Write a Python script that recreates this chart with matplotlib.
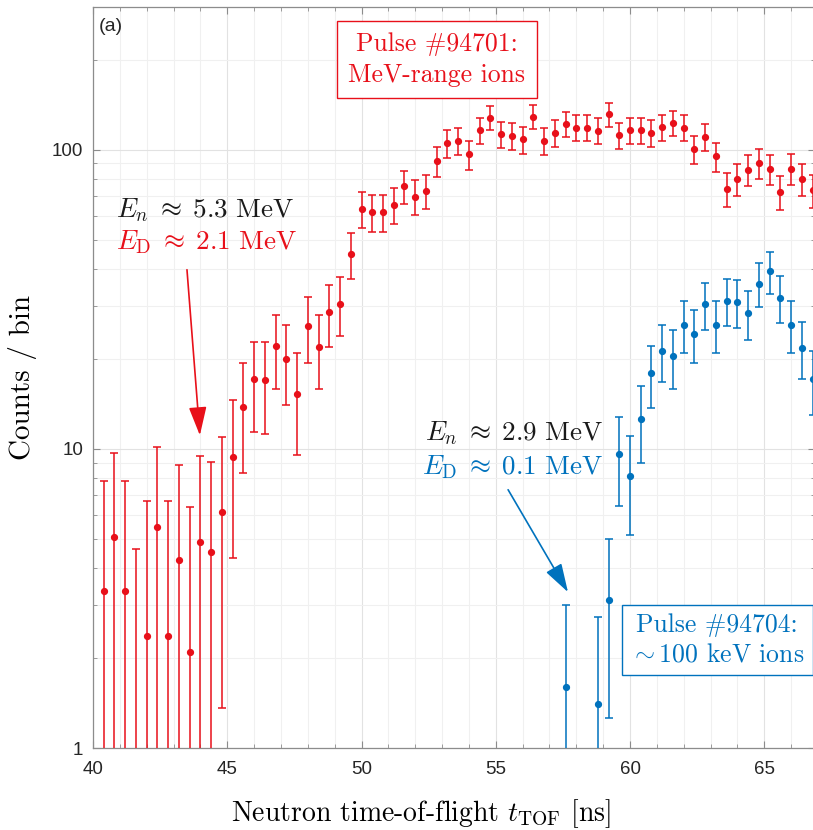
import matplotlib
matplotlib.use("Agg")
import matplotlib.pyplot as plt
from matplotlib.ticker import LogLocator, MultipleLocator, NullFormatter, FixedLocator

plt.rcParams["mathtext.fontset"] = "cm"

# Pulse #94701 (MeV-range ions)
tof_red = [40.4, 40.8, 41.2, 41.6, 42.0, 42.4, 42.8, 43.2, 43.6, 44.0,
           44.4, 44.8, 45.2, 45.6, 46.0, 46.4, 46.8, 47.2, 47.6, 48.0,
           48.4, 48.8, 49.2, 49.6, 50.0, 50.4, 50.8, 51.2, 51.6, 52.0,
           52.4, 52.8, 53.2, 53.6, 54.0, 54.4, 54.8, 55.2, 55.6, 56.0,
           56.4, 56.8, 57.2, 57.6, 58.0, 58.4, 58.8, 59.2, 59.6, 60.0,
           60.4, 60.8, 61.2, 61.6, 62.0, 62.4, 62.8, 63.2, 63.6, 64.0,
           64.4, 64.8, 65.2, 65.6, 66.0, 66.4, 66.8]
counts_red = [3.35, 5.07, 3.35, 0.55, 2.37, 5.50, 2.37, 4.25, 2.10, 4.88,
              4.51, 6.15, 9.42, 13.8, 17.1, 17.0, 22.0, 20.0, 15.2, 25.8,
              21.9, 28.6, 30.6, 44.9, 63.6, 61.9, 61.9, 65.5, 75.4, 69.7,
              72.9, 91.7, 105.0, 107.2, 96.4, 116.4, 128.0, 112.8, 111.1, 108.2,
              128.9, 106.9, 113.9, 122.2, 118.6, 118.6, 115.8, 131.2, 111.9, 116.4,
              116.4, 113.9, 118.9, 122.8, 118.6, 100.7, 110.5, 95.0, 73.8, 79.6,
              85.6, 90.3, 86.1, 72.2, 86.5, 80.0, 73.1]
err_red = [4.43, 4.63, 4.43, 4.07, 4.34, 4.68, 4.31, 4.55, 4.28, 4.62,
           4.54, 4.79, 5.10, 5.50, 5.75, 5.76, 6.10, 6.00, 5.65, 6.40,
           6.10, 6.70, 6.80, 7.80, 8.90, 8.80, 8.80, 9.00, 9.60, 9.30,
           9.40, 10.4, 11.0, 11.1, 10.6, 11.5, 12.0, 11.3, 11.3, 11.1,
           12.0, 11.1, 11.4, 11.8, 11.6, 11.6, 11.5, 12.1, 11.3, 11.5,
           11.5, 11.4, 11.6, 11.8, 11.6, 10.8, 11.2, 10.5, 9.50, 9.80,
           10.1, 10.3, 10.1, 9.40, 10.1, 9.80, 9.40]

# Pulse #94704 (~100 keV ions)
tof_blue = [57.6, 58.8, 59.2, 59.6, 60.0, 60.4, 60.8, 61.2, 61.6, 62.0,
            62.4, 62.8, 63.2, 63.6, 64.0, 64.4, 64.8, 65.2, 65.6, 66.0,
            66.4, 66.8]
counts_blue = [1.60, 1.40, 3.13, 9.60, 8.12, 12.6, 17.9, 21.3, 20.4, 26.0,
               24.3, 30.4, 26.0, 31.3, 31.0, 28.4, 35.7, 39.3, 32.0, 26.0,
               21.8, 17.1]
err_blue = [1.41, 1.34, 1.87, 3.15, 2.95, 3.60, 4.20, 4.60, 4.50, 5.10,
            4.90, 5.50, 5.10, 5.60, 5.60, 5.30, 6.00, 6.30, 5.70, 5.10,
            4.70, 4.10]

x_ticks = [40, 45, 50, 55, 60, 65]
y_ticks = [1, 10, 100]

RED = "#e8101a"
BLUE = "#0072bd"

fig = plt.figure(figsize=(8.13, 8.30), dpi=100)
ax = fig.add_axes([93 / 813, 82 / 830, 722 / 813, 741 / 830])

ax.set_yscale("log")
ax.errorbar(tof_red, counts_red, yerr=err_red, fmt="o", color=RED, ms=4.2,
            capsize=3, elinewidth=1.1, capthick=1.1, zorder=3)
ax.errorbar(tof_blue, counts_blue, yerr=err_blue, fmt="o", color=BLUE, ms=4.2,
            capsize=3, elinewidth=1.1, capthick=1.1, zorder=3)

ax.set_xlim(40, 66.89)
ax.set_ylim(1, 300)

ax.xaxis.set_major_locator(FixedLocator(x_ticks))
ax.xaxis.set_minor_locator(MultipleLocator(1))
ax.yaxis.set_major_locator(FixedLocator(y_ticks))
ax.yaxis.set_minor_locator(LogLocator(base=10, subs=range(2, 10)))
ax.yaxis.set_minor_formatter(NullFormatter())
ax.set_yticklabels(["1", "10", "100"])

ax.grid(True, which="major", color="#e2e2e2", lw=0.8, zorder=0)
ax.grid(True, which="minor", color="#f0f0f0", lw=0.8, zorder=0)
ax.set_axisbelow(True)

for s in ax.spines.values():
    s.set_color("#8c8c8c")
    s.set_linewidth(0.9)
ax.tick_params(which="both", direction="in", top=True, right=True,
               color="#8c8c8c", labelcolor="#262626", labelsize=13.5)
ax.tick_params(which="major", length=5)
ax.tick_params(which="minor", length=3)
ax.tick_params(axis="x", pad=9)
ax.tick_params(axis="y", pad=7)
for lab in ax.get_xticklabels() + ax.get_yticklabels():
    lab.set_family("Liberation Sans")

ax.set_ylabel("Counts / bin", fontsize=21, family="cmr10")
ax.yaxis.set_label_coords(-0.077, 0.5)
ax.set_xlabel(r"Neutron time-of-flight $t_{\mathrm{TOF}}$ [ns]", fontsize=20,
              family="cmr10")
ax.xaxis.set_label_coords((421 - 93) / 722, -0.066)

ax.text(0.008, 0.985, "(a)", transform=ax.transAxes, ha="left", va="top",
        fontsize=14, family="Liberation Sans", color="#262626")

ax.text(52.8, 200, "Pulse #94701:\nMeV-range ions", family="cmr10",
        ha="center", va="center", color=RED, fontsize=18.5, linespacing=1.35,
        bbox=dict(boxstyle="square,pad=0.45", fc="white", ec=RED, lw=1.0))
ax.text(63.25, 2.3, "Pulse #94704:\n" + r"$\sim$100 keV ions", family="cmr10",
        ha="center", va="center", color=BLUE, fontsize=18.5, linespacing=1.35,
        bbox=dict(boxstyle="square,pad=0.32", fc="white", ec=BLUE, lw=1.0))

ax.text(40.85, 63, r"$E_n \;\approx\; 5.3\ \mathrm{MeV}$", color="#1a1a1a", fontsize=19.5,
        ha="left", va="center")
ax.text(40.85, 49, r"$E_{\mathrm{D}} \;\approx\; 2.1\ \mathrm{MeV}$", color=RED, fontsize=19.5,
        ha="left", va="center")
ax.annotate("", xy=(43.98, 11.1), xytext=(43.5, 39.7),
            arrowprops=dict(arrowstyle="-|>,head_length=0.8,head_width=0.25", color=RED, lw=1.2,
                            mutation_scale=22, shrinkA=0, shrinkB=0))

ax.text(59.0, 11.3, r"$E_n \;\approx\; 2.9\ \mathrm{MeV}$", color="#1a1a1a", fontsize=19.5,
        ha="right", va="center")
ax.text(59.0, 8.7, r"$E_{\mathrm{D}} \;\approx\; 0.1\ \mathrm{MeV}$", color=BLUE, fontsize=19.5,
        ha="right", va="center")
ax.annotate("", xy=(57.69, 3.32), xytext=(55.46, 7.3),
            arrowprops=dict(arrowstyle="-|>,head_length=0.8,head_width=0.25", color=BLUE, lw=1.2,
                            mutation_scale=22, shrinkA=0, shrinkB=0))

fig.savefig("out.png", dpi=100)
